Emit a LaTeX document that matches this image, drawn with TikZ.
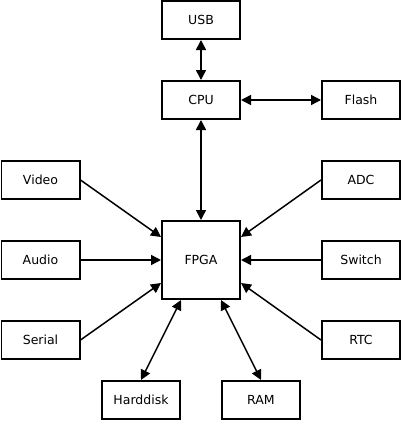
\documentclass[tikz,border=0pt]{standalone}
\usepackage{fontspec}
\setmainfont{DejaVu Sans}
\usetikzlibrary{arrows.meta}
\begin{document}
\begin{tikzpicture}[x=1pt,y=-1pt,
  box/.style={draw=black,line width=1.9pt,minimum width=78.1pt,minimum height=38.1pt,inner sep=0pt,font=\fontsize{12.5}{14}\selectfont},
  bigbox/.style={box,minimum height=78.1pt},
  tip/.style={},
  conn/.style={line width=1.5pt,-{Triangle[length=10pt,width=10pt]}},
  bconn/.style={line width=1.5pt,{Triangle[length=10pt,width=10pt]}-{Triangle[length=10pt,width=10pt]}}]
\useasboundingbox (0,0) rectangle (401,421);
\node[box] (usb) at (201,20) {USB};
\node[box] (cpu) at (201,100) {CPU};
\node[box] (flash) at (361,100) {Flash};
\node[box] (video) at (40.5,180) {Video};
\node[box] (adc) at (361,180) {ADC};
\node[bigbox] (fpga) at (201,260) {FPGA};
\node[box] (audio) at (40.5,260) {Audio};
\node[box] (switch) at (361,260) {Switch};
\node[box] (serial) at (40.5,340) {Serial};
\node[box] (rtc) at (361,340) {RTC};
\node[box] (hdd) at (141,400) {Harddisk};
\node[box] (ram) at (261,400) {RAM};
\draw[bconn] (usb) -- (cpu);
\draw[bconn] (cpu) -- (flash);
\draw[bconn] (cpu) -- (fpga);
\draw[conn] (video.east) -- ([yshift=23pt]fpga.west);
\draw[conn] (audio) -- (fpga);
\draw[conn] (serial.east) -- ([yshift=-23pt]fpga.west);
\draw[conn] (adc.west) -- ([yshift=23pt]fpga.east);
\draw[conn] (switch) -- (fpga);
\draw[conn] (rtc.west) -- ([yshift=-23pt]fpga.east);
\draw[bconn] (hdd.north) -- ([xshift=-20pt]fpga.south);
\draw[bconn] (ram.north) -- ([xshift=20pt]fpga.south);
\end{tikzpicture}
\end{document}
